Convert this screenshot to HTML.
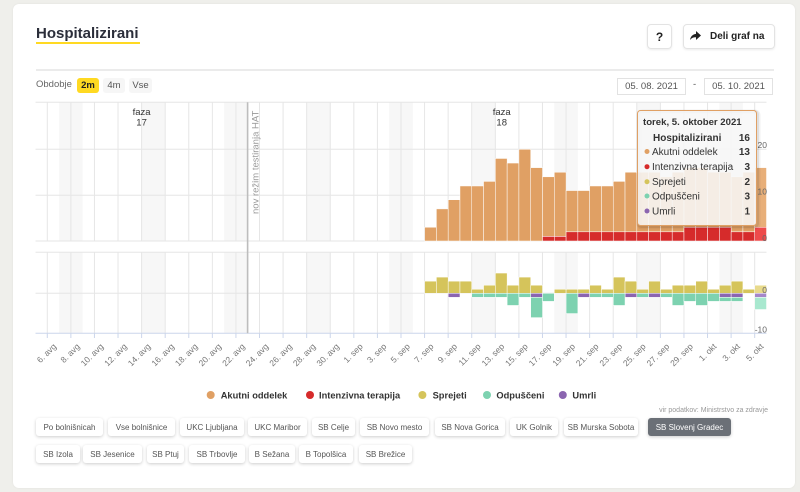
<!DOCTYPE html>
<html><head><meta charset="utf-8">
<style>
html,body{margin:0;padding:0;}
body{width:800px;height:492px;background:#efefeb;position:relative;overflow:hidden;font-family:"Liberation Sans",sans-serif;}
.a{position:absolute;}
.btn{position:absolute;height:18px;background:#fff;border-radius:3px;box-shadow:0 1px 3px rgba(0,0,0,.2);font-size:8px;color:#555;display:flex;align-items:center;justify-content:center;white-space:nowrap;}
.sel{background:#6b7077;color:#fff;}
.pb{position:absolute;top:78px;height:15px;border-radius:3px;font-size:9.5px;display:flex;align-items:center;justify-content:center;}
.date{position:absolute;top:78px;height:15px;border:1px solid #e2e2e2;font-size:9.5px;color:#555;display:flex;align-items:center;justify-content:center;background:#fff;}
</style></head>
<body>
<div class="a" style="left:13px;top:4px;width:782px;height:484px;background:#fff;border-radius:6px;box-shadow:0 0 2px rgba(0,0,0,.06);"></div>

<div class="a" style="left:36px;top:25px;font-weight:bold;font-size:15px;line-height:17px;color:#2b2e3a;">Hospitalizirani</div>
<div class="a" style="left:36px;top:41.5px;width:104px;height:2px;background:#ffd922;"></div>

<div class="a" style="left:647px;top:24px;width:23px;height:23px;border:1px solid #e3e3e3;border-radius:4px;box-shadow:0 1px 2px rgba(0,0,0,.08);font-weight:bold;font-size:12px;color:#222;display:flex;align-items:center;justify-content:center;">?</div>
<div class="a" style="left:683px;top:24px;width:90px;height:23px;border:1px solid #e3e3e3;border-radius:4px;box-shadow:0 1px 2px rgba(0,0,0,.08);"></div>
<svg class="a" style="left:690px;top:31px" width="11" height="10" viewBox="0 0 11 10"><path d="M6 0 L11 4.5 L6 9 L6 6.3 C3.5 6.2 1.6 7 0 9 C0.6 5.6 2.6 3.3 6 2.9 Z" fill="#222"/></svg>
<div class="a" style="left:710px;top:31px;font-weight:bold;font-size:10px;line-height:12px;color:#222;">Deli graf na</div>

<div class="a" style="left:36px;top:68.5px;width:738px;height:2px;background:#ebebeb;"></div>

<div class="a" style="left:36px;top:79px;font-size:9.5px;line-height:12px;color:#666;">Obdobje</div>
<div class="pb" style="left:77px;width:22px;background:#ffd922;font-weight:bold;color:#222;">2m</div>
<div class="pb" style="left:103px;width:22px;background:#f6f6f6;color:#555;">4m</div>
<div class="pb" style="left:129px;width:23px;background:#f6f6f6;color:#555;">Vse</div>

<div class="date" style="left:617px;width:67px;">05. 08. 2021</div>
<div class="a" style="left:693px;top:79px;font-size:9.5px;line-height:12px;color:#555;">-</div>
<div class="date" style="left:704px;width:67px;">05. 10. 2021</div>

<svg class="a" style="left:0;top:0" width="800" height="492" viewBox="0 0 800 492" font-family="Liberation Sans, sans-serif">
<g fill="#f7f7f7">
<rect x="59.08" y="102.3" width="23.58" height="138.7"/><rect x="141.61" y="102.3" width="23.58" height="138.7"/><rect x="224.14" y="102.3" width="23.58" height="138.7"/><rect x="306.67" y="102.3" width="23.58" height="138.7"/><rect x="389.2" y="102.3" width="23.58" height="138.7"/><rect x="471.73" y="102.3" width="23.58" height="138.7"/><rect x="554.26" y="102.3" width="23.58" height="138.7"/><rect x="636.79" y="102.3" width="23.58" height="138.7"/><rect x="719.32" y="102.3" width="23.58" height="138.7"/>
<rect x="59.08" y="252.3" width="23.58" height="81"/><rect x="141.61" y="252.3" width="23.58" height="81"/><rect x="224.14" y="252.3" width="23.58" height="81"/><rect x="306.67" y="252.3" width="23.58" height="81"/><rect x="389.2" y="252.3" width="23.58" height="81"/><rect x="471.73" y="252.3" width="23.58" height="81"/><rect x="554.26" y="252.3" width="23.58" height="81"/><rect x="636.79" y="252.3" width="23.58" height="81"/><rect x="719.32" y="252.3" width="23.58" height="81"/>
</g>
<path stroke="#e6e6e6" stroke-width="1" fill="none" d="M47.29 102.3V241M70.87 102.3V241M94.45 102.3V241M118.03 102.3V241M141.61 102.3V241M165.19 102.3V241M188.77 102.3V241M212.35 102.3V241M235.93 102.3V241M259.51 102.3V241M283.09 102.3V241M306.67 102.3V241M330.25 102.3V241M353.83 102.3V241M377.41 102.3V241M400.99 102.3V241M424.57 102.3V241M448.15 102.3V241M471.73 102.3V241M495.31 102.3V241M518.89 102.3V241M542.47 102.3V241M566.05 102.3V241M589.63 102.3V241M613.21 102.3V241M636.79 102.3V241M660.37 102.3V241M683.95 102.3V241M707.53 102.3V241M731.11 102.3V241M754.69 102.3V241
M47.29 252.3V333.3M70.87 252.3V333.3M94.45 252.3V333.3M118.03 252.3V333.3M141.61 252.3V333.3M165.19 252.3V333.3M188.77 252.3V333.3M212.35 252.3V333.3M235.93 252.3V333.3M259.51 252.3V333.3M283.09 252.3V333.3M306.67 252.3V333.3M330.25 252.3V333.3M353.83 252.3V333.3M377.41 252.3V333.3M400.99 252.3V333.3M424.57 252.3V333.3M448.15 252.3V333.3M471.73 252.3V333.3M495.31 252.3V333.3M518.89 252.3V333.3M542.47 252.3V333.3M566.05 252.3V333.3M589.63 252.3V333.3M613.21 252.3V333.3M636.79 252.3V333.3M660.37 252.3V333.3M683.95 252.3V333.3M707.53 252.3V333.3M731.11 252.3V333.3M754.69 252.3V333.3"/>
<path stroke="#e6e6e6" stroke-width="1" fill="none" d="M35.5 102.3H766.5M35.5 149.3H766.5M35.5 195.2H766.5M35.5 241H766.5M35.5 252.3H766.5M35.5 293.3H766.5"/>
<path stroke="#ccd6eb" stroke-width="1" fill="none" d="M35.5 333.3H766.5M47.29 333.3V338M70.87 333.3V338M94.45 333.3V338M118.03 333.3V338M141.61 333.3V338M165.19 333.3V338M188.77 333.3V338M212.35 333.3V338M235.93 333.3V338M259.51 333.3V338M283.09 333.3V338M306.67 333.3V338M330.25 333.3V338M353.83 333.3V338M377.41 333.3V338M400.99 333.3V338M424.57 333.3V338M448.15 333.3V338M471.73 333.3V338M495.31 333.3V338M518.89 333.3V338M542.47 333.3V338M566.05 333.3V338M589.63 333.3V338M613.21 333.3V338M636.79 333.3V338M660.37 333.3V338M683.95 333.3V338M707.53 333.3V338M731.11 333.3V338M754.69 333.3V338"/>
<line x1="247.6" y1="102.3" x2="247.6" y2="333.3" stroke="#bdbdbd" stroke-width="1.6"/>
<text x="258.5" y="214" transform="rotate(-90 258.5 214)" font-size="9.5" fill="#999">nov režim testiranja HAT</text>
<text x="141.6" y="115" text-anchor="middle" font-size="9.5" fill="#333">faza</text>
<text x="141.6" y="125.7" text-anchor="middle" font-size="9.5" fill="#333">17</text>
<text x="501.7" y="115" text-anchor="middle" font-size="9.5" fill="#333">faza</text>
<text x="501.7" y="125.7" text-anchor="middle" font-size="9.5" fill="#333">18</text>

<g fill="#e0a064" stroke="#fff" stroke-width="0.5">
<rect x="424.6" y="227.25" width="11.79" height="13.75"/>
<rect x="436.39" y="208.9" width="11.79" height="32.1"/>
<rect x="448.18" y="199.73" width="11.79" height="41.27"/>
<rect x="459.97" y="185.98" width="11.79" height="55.02"/>
<rect x="471.76" y="185.98" width="11.79" height="55.02"/>
<rect x="483.55" y="181.4" width="11.79" height="59.6"/>
<rect x="495.34" y="158.47" width="11.79" height="82.53"/>
<rect x="507.13" y="163.05" width="11.79" height="77.95"/>
<rect x="518.92" y="149.3" width="11.79" height="91.7"/>
<rect x="530.71" y="167.64" width="11.79" height="73.36"/>
<rect x="542.5" y="176.81" width="11.79" height="59.61"/>
<rect x="554.29" y="172.22" width="11.79" height="64.2"/>
<rect x="566.08" y="190.56" width="11.79" height="41.27"/>
<rect x="577.87" y="190.56" width="11.79" height="41.27"/>
<rect x="589.66" y="185.98" width="11.79" height="45.85"/>
<rect x="601.45" y="185.98" width="11.79" height="45.85"/>
<rect x="613.24" y="181.4" width="11.79" height="50.43"/>
<rect x="625.03" y="172.22" width="11.79" height="59.61"/>
<rect x="636.82" y="172.22" width="11.79" height="59.61"/>
<rect x="648.61" y="172.22" width="11.79" height="59.61"/>
<rect x="660.4" y="176.81" width="11.79" height="55.02"/>
<rect x="672.19" y="172.22" width="11.79" height="59.61"/>
<rect x="683.98" y="167.64" width="11.79" height="59.61"/>
<rect x="695.77" y="167.64" width="11.79" height="59.61"/>
<rect x="707.56" y="172.22" width="11.79" height="55.03"/>
<rect x="719.35" y="172.22" width="11.79" height="55.03"/>
<rect x="731.14" y="176.81" width="11.79" height="55.02"/>
<rect x="742.93" y="172.22" width="11.79" height="59.61"/>
<rect x="754.72" y="167.64" width="11.79" height="59.61" fill="#e8af79"/>
</g>
<g fill="#d62b2b" stroke="#fff" stroke-width="0.5">
<rect x="542.5" y="236.42" width="11.79" height="4.58"/>
<rect x="554.29" y="236.42" width="11.79" height="4.58"/>
<rect x="566.08" y="231.83" width="11.79" height="9.17"/>
<rect x="577.87" y="231.83" width="11.79" height="9.17"/>
<rect x="589.66" y="231.83" width="11.79" height="9.17"/>
<rect x="601.45" y="231.83" width="11.79" height="9.17"/>
<rect x="613.24" y="231.83" width="11.79" height="9.17"/>
<rect x="625.03" y="231.83" width="11.79" height="9.17"/>
<rect x="636.82" y="231.83" width="11.79" height="9.17"/>
<rect x="648.61" y="231.83" width="11.79" height="9.17"/>
<rect x="660.4" y="231.83" width="11.79" height="9.17"/>
<rect x="672.19" y="231.83" width="11.79" height="9.17"/>
<rect x="683.98" y="227.25" width="11.79" height="13.75"/>
<rect x="695.77" y="227.25" width="11.79" height="13.75"/>
<rect x="707.56" y="227.25" width="11.79" height="13.75"/>
<rect x="719.35" y="227.25" width="11.79" height="13.75"/>
<rect x="731.14" y="231.83" width="11.79" height="9.17"/>
<rect x="742.93" y="231.83" width="11.79" height="9.17"/>
<rect x="754.72" y="227.25" width="11.79" height="13.75" fill="#ee4b4b"/>
</g>

<g fill="#d5c45b" stroke="#fff" stroke-width="0.5">
<rect x="424.6" y="281.15" width="11.79" height="12.15"/>
<rect x="436.39" y="277.1" width="11.79" height="16.2"/>
<rect x="448.18" y="281.15" width="11.79" height="12.15"/>
<rect x="459.97" y="281.15" width="11.79" height="12.15"/>
<rect x="471.76" y="289.25" width="11.79" height="4.05"/>
<rect x="483.55" y="285.2" width="11.79" height="8.1"/>
<rect x="495.34" y="273.05" width="11.79" height="20.25"/>
<rect x="507.13" y="285.2" width="11.79" height="8.1"/>
<rect x="518.92" y="277.1" width="11.79" height="16.2"/>
<rect x="530.71" y="285.2" width="11.79" height="8.1"/>
<rect x="554.29" y="289.25" width="11.79" height="4.05"/>
<rect x="566.08" y="289.25" width="11.79" height="4.05"/>
<rect x="577.87" y="289.25" width="11.79" height="4.05"/>
<rect x="589.66" y="285.2" width="11.79" height="8.1"/>
<rect x="601.45" y="289.25" width="11.79" height="4.05"/>
<rect x="613.24" y="277.1" width="11.79" height="16.2"/>
<rect x="625.03" y="281.15" width="11.79" height="12.15"/>
<rect x="636.82" y="289.25" width="11.79" height="4.05"/>
<rect x="648.61" y="281.15" width="11.79" height="12.15"/>
<rect x="660.4" y="289.25" width="11.79" height="4.05"/>
<rect x="672.19" y="285.2" width="11.79" height="8.1"/>
<rect x="683.98" y="285.2" width="11.79" height="8.1"/>
<rect x="695.77" y="281.15" width="11.79" height="12.15"/>
<rect x="707.56" y="289.25" width="11.79" height="4.05"/>
<rect x="719.35" y="285.2" width="11.79" height="8.1"/>
<rect x="731.14" y="281.15" width="11.79" height="12.15"/>
<rect x="742.93" y="289.25" width="11.79" height="4.05"/>
<rect x="754.72" y="285.2" width="11.79" height="8.1" fill="#e8da8c"/>
</g>
<g fill="#8b65b0" stroke="#fff" stroke-width="0.5">
<rect x="448.18" y="293.3" width="11.79" height="4.05"/>
<rect x="530.71" y="293.3" width="11.79" height="4.05"/>
<rect x="577.87" y="293.3" width="11.79" height="4.05"/>
<rect x="625.03" y="293.3" width="11.79" height="4.05"/>
<rect x="648.61" y="293.3" width="11.79" height="4.05"/>
<rect x="719.35" y="293.3" width="11.79" height="4.05"/>
<rect x="731.14" y="293.3" width="11.79" height="4.05"/>
<rect x="754.72" y="293.3" width="11.79" height="4.05" fill="#a587c9"/>
</g>
<g fill="#7dd2b0" stroke="#fff" stroke-width="0.5">
<rect x="471.76" y="293.3" width="11.79" height="4.05"/>
<rect x="483.55" y="293.3" width="11.79" height="4.05"/>
<rect x="495.34" y="293.3" width="11.79" height="4.05"/>
<rect x="507.13" y="293.3" width="11.79" height="12.15"/>
<rect x="518.92" y="293.3" width="11.79" height="4.05"/>
<rect x="530.71" y="297.35" width="11.79" height="20.25"/>
<rect x="542.5" y="293.3" width="11.79" height="8.1"/>
<rect x="566.08" y="293.3" width="11.79" height="20.25"/>
<rect x="589.66" y="293.3" width="11.79" height="4.05"/>
<rect x="601.45" y="293.3" width="11.79" height="4.05"/>
<rect x="613.24" y="293.3" width="11.79" height="12.15"/>
<rect x="636.82" y="293.3" width="11.79" height="4.05"/>
<rect x="660.4" y="293.3" width="11.79" height="4.05"/>
<rect x="672.19" y="293.3" width="11.79" height="12.15"/>
<rect x="683.98" y="293.3" width="11.79" height="8.1"/>
<rect x="695.77" y="293.3" width="11.79" height="12.15"/>
<rect x="707.56" y="293.3" width="11.79" height="8.1"/>
<rect x="719.35" y="297.35" width="11.79" height="4.05"/>
<rect x="731.14" y="297.35" width="11.79" height="4.05"/>
<rect x="754.72" y="297.35" width="11.79" height="12.15" fill="#a8e8cf"/>
</g>

<g font-size="8.5" fill="#666" text-anchor="end">
<text x="767" y="148">20</text>
<text x="767" y="194.5">10</text>
<text x="767" y="241">0</text>
<text x="767" y="292.8">0</text>
<text x="767" y="332.5">-10</text>
</g>

<g font-size="8.5" fill="#777" text-anchor="end">
<text x="56.79" y="347" transform="rotate(-45 56.79 347)">6. avg</text>
<text x="80.37" y="347" transform="rotate(-45 80.37 347)">8. avg</text>
<text x="103.95" y="347" transform="rotate(-45 103.95 347)">10. avg</text>
<text x="127.53" y="347" transform="rotate(-45 127.53 347)">12. avg</text>
<text x="151.11" y="347" transform="rotate(-45 151.11 347)">14. avg</text>
<text x="174.69" y="347" transform="rotate(-45 174.69 347)">16. avg</text>
<text x="198.27" y="347" transform="rotate(-45 198.27 347)">18. avg</text>
<text x="221.85" y="347" transform="rotate(-45 221.85 347)">20. avg</text>
<text x="245.43" y="347" transform="rotate(-45 245.43 347)">22. avg</text>
<text x="269.01" y="347" transform="rotate(-45 269.01 347)">24. avg</text>
<text x="292.59" y="347" transform="rotate(-45 292.59 347)">26. avg</text>
<text x="316.17" y="347" transform="rotate(-45 316.17 347)">28. avg</text>
<text x="339.75" y="347" transform="rotate(-45 339.75 347)">30. avg</text>
<text x="363.33" y="347" transform="rotate(-45 363.33 347)">1. sep</text>
<text x="386.91" y="347" transform="rotate(-45 386.91 347)">3. sep</text>
<text x="410.49" y="347" transform="rotate(-45 410.49 347)">5. sep</text>
<text x="434.07" y="347" transform="rotate(-45 434.07 347)">7. sep</text>
<text x="457.65" y="347" transform="rotate(-45 457.65 347)">9. sep</text>
<text x="481.23" y="347" transform="rotate(-45 481.23 347)">11. sep</text>
<text x="504.81" y="347" transform="rotate(-45 504.81 347)">13. sep</text>
<text x="528.39" y="347" transform="rotate(-45 528.39 347)">15. sep</text>
<text x="551.97" y="347" transform="rotate(-45 551.97 347)">17. sep</text>
<text x="575.55" y="347" transform="rotate(-45 575.55 347)">19. sep</text>
<text x="599.13" y="347" transform="rotate(-45 599.13 347)">21. sep</text>
<text x="622.71" y="347" transform="rotate(-45 622.71 347)">23. sep</text>
<text x="646.29" y="347" transform="rotate(-45 646.29 347)">25. sep</text>
<text x="669.87" y="347" transform="rotate(-45 669.87 347)">27. sep</text>
<text x="693.45" y="347" transform="rotate(-45 693.45 347)">29. sep</text>
<text x="717.03" y="347" transform="rotate(-45 717.03 347)">1. okt</text>
<text x="740.61" y="347" transform="rotate(-45 740.61 347)">3. okt</text>
<text x="764.19" y="347" transform="rotate(-45 764.19 347)">5. okt</text>
</g>

<rect x="639" y="112" width="119" height="115" rx="3" fill="none" stroke="rgba(0,0,0,0.05)" stroke-width="5"/>
<rect x="638.5" y="111.5" width="119" height="115" rx="3" fill="none" stroke="rgba(0,0,0,0.08)" stroke-width="3"/>
<rect x="637.5" y="110.5" width="119" height="115" rx="3" fill="#f7f7f7" fill-opacity="0.88" stroke="#e0a064" stroke-width="1"/>
<text x="643" y="125" font-size="9.6" font-weight="bold" fill="#333">torek, 5. oktober 2021</text>
<text x="653" y="141" font-size="10" font-weight="bold" fill="#333">Hospitalizirani</text>
<text x="750" y="141" font-size="10" font-weight="bold" fill="#333" text-anchor="end">16</text>
<g font-size="10" fill="#333">
<circle cx="647" cy="151.5" r="2.5" fill="#e0a064"/><text x="652" y="155">Akutni oddelek</text>
<circle cx="647" cy="166.7" r="2.5" fill="#d62b2b"/><text x="652" y="170.2">Intenzivna terapija</text>
<circle cx="647" cy="181.7" r="2.5" fill="#d5c45b"/><text x="652" y="185.2">Sprejeti</text>
<circle cx="647" cy="196" r="2.5" fill="#7dd2b0"/><text x="652" y="199.5">Odpuščeni</text>
<circle cx="647" cy="211" r="2.5" fill="#8b65b0"/><text x="652" y="214.5">Umrli</text>
</g>
<g font-size="10" font-weight="bold" fill="#333" text-anchor="end">
<text x="750" y="155">13</text>
<text x="750" y="170.2">3</text>
<text x="750" y="185.2">2</text>
<text x="750" y="199.5">3</text>
<text x="750" y="214.5">1</text>
</g>

<g font-size="9.3" font-weight="bold" fill="#333">
<circle cx="210.7" cy="395" r="4" fill="#e0a064"/><text x="220.7" y="398.5">Akutni oddelek</text>
<circle cx="310" cy="395" r="4" fill="#d62b2b"/><text x="319" y="398.5">Intenzivna terapija</text>
<circle cx="422.4" cy="395" r="4" fill="#d5c45b"/><text x="432.6" y="398.5">Sprejeti</text>
<circle cx="487" cy="395" r="4" fill="#7dd2b0"/><text x="496.4" y="398.5">Odpuščeni</text>
<circle cx="562.8" cy="395" r="4" fill="#8b65b0"/><text x="572.4" y="398.5">Umrli</text>
</g>
<text x="768" y="412" font-size="7" fill="#999" text-anchor="end">vir podatkov: Ministrstvo za zdravje</text>
</svg>

<div class="btn" style="left:36px;top:418px;width:67px;">Po bolnišnicah</div>
<div class="btn" style="left:108px;top:418px;width:67px;">Vse bolnišnice</div>
<div class="btn" style="left:180px;top:418px;width:64px;">UKC Ljubljana</div>
<div class="btn" style="left:248px;top:418px;width:59px;">UKC Maribor</div>
<div class="btn" style="left:312px;top:418px;width:43px;">SB Celje</div>
<div class="btn" style="left:360px;top:418px;width:69px;">SB Novo mesto</div>
<div class="btn" style="left:435px;top:418px;width:70px;">SB Nova Gorica</div>
<div class="btn" style="left:510px;top:418px;width:48px;">UK Golnik</div>
<div class="btn" style="left:564px;top:418px;width:74px;">SB Murska Sobota</div>
<div class="btn sel" style="left:648px;top:418px;width:83px;">SB Slovenj Gradec</div>

<div class="btn" style="left:36px;top:445px;width:44px;">SB Izola</div>
<div class="btn" style="left:83px;top:445px;width:59px;">SB Jesenice</div>
<div class="btn" style="left:147px;top:445px;width:37px;">SB Ptuj</div>
<div class="btn" style="left:189px;top:445px;width:56px;">SB Trbovlje</div>
<div class="btn" style="left:249px;top:445px;width:46px;">B Sežana</div>
<div class="btn" style="left:299px;top:445px;width:54px;">B Topolšica</div>
<div class="btn" style="left:359px;top:445px;width:53px;">SB Brežice</div>
</body></html>
